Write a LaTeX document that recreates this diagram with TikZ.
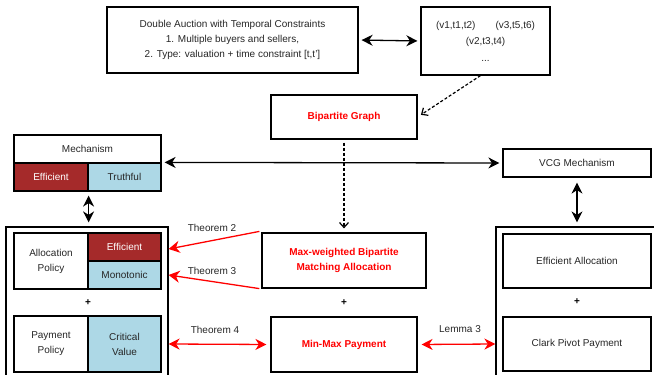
\documentclass[tikz,border=0pt]{standalone}
\usepackage{fontspec}
\setmainfont{Liberation Sans}
\usetikzlibrary{arrows.meta}
\definecolor{effred}{HTML}{A52A2A}
\definecolor{truthblue}{HTML}{ADD8E6}
\tikzset{
  box/.style={draw, line width=1.2pt, inner sep=0pt, align=center, text=black!85,
    font=\fontsize{10}{15}\selectfont},
  redbold/.style={text=red, font=\fontsize{10}{15}\selectfont\bfseries},
  lbl/.style={font=\fontsize{10}{12}\selectfont, text=black!85},
  plus/.style={font=\fontsize{10}{12}\selectfont\bfseries},
  link/.style={line width=1.3pt, {Stealth[length=11pt,width=11pt,inset=3.5pt]}-{Stealth[length=11pt,width=11pt,inset=3.5pt]}},
  redlink/.style={line width=1.3pt, red, -{Stealth[length=11pt,width=12pt,inset=3.5pt]}},
  reddouble/.style={link, red},
  dotlink/.style={line width=1.2pt, dashed, dash pattern=on 3pt off 2pt, -{Straight Barb[length=5pt,width=9pt]}}
}

\begin{document}
\begin{tikzpicture}[x=1pt,y=-1pt]
\useasboundingbox (0,0) rectangle (654,375);

\node[box, minimum width=251pt, minimum height=66pt] (auction) at (232.5,40)
  {Double Auction with Temporal Constraints\\1. Multiple buyers and sellers,\\2. Type: valuation + time constraint [t,t']};
\node[box, minimum width=129pt, minimum height=68pt, font=\fontsize{10}{16.5}\selectfont] (types) at (485.5,41)
  {(v1,t1,t2)\hspace{20pt}(v3,t5,t6)\\(v2,t3,t4)\\...};
\node[box, redbold, minimum width=146pt, minimum height=44pt] (bip) at (344,117) {Bipartite Graph};

\node[box, minimum width=147pt, minimum height=28pt] (mech) at (87.5,149) {Mechanism};
\node[box, fill=effred, text=white, minimum width=74pt, minimum height=28pt] (eff) at (51,177) {Efficient};
\node[box, fill=truthblue, minimum width=73pt, minimum height=28pt] (truth) at (124.5,177) {Truthful};

\node[box, minimum width=162pt, minimum height=153pt] (leftouter) at (87,303.5) {};
\node[box, minimum width=74pt, minimum height=56pt] (policy) at (51,261) {Allocation\\Policy};
\node[box, fill=effred, text=white, minimum width=73pt, minimum height=28pt] (effcell) at (124.5,247) {Efficient};
\node[box, fill=truthblue, minimum width=73pt, minimum height=28pt] (monocell) at (124.5,275) {Monotonic};
\node[plus] (plusa) at (88,303) {+};
\node[box, minimum width=74pt, minimum height=56pt] (paypolicy) at (51,344) {Payment\\Policy};
\node[box, fill=truthblue, minimum width=73pt, minimum height=56pt] (critical) at (124.5,344) {Critical\\Value};

\node[box, redbold, minimum width=164pt, minimum height=55pt] (maxw) at (344,260.5)
  {Max-weighted Bipartite\\Matching Allocation};
\node[plus] (plusb) at (344,303) {+};
\node[box, redbold, minimum width=146pt, minimum height=55pt] (minmax) at (344,344.5) {Min-Max Payment};

\node[box, minimum width=148pt, minimum height=28pt] (vcg) at (577,163) {VCG Mechanism};
\node[box, minimum width=164pt, minimum height=153pt] (rightouter) at (578,303.5) {};
\node[box, minimum width=148pt, minimum height=54pt] (effalloc) at (577,261) {Efficient Allocation};
\node[plus] (plusc) at (577,302) {+};
\node[box, minimum width=148pt, minimum height=54pt] (clark) at (577,344) {Clark Pivot Payment};

\draw[link, shorten <=3pt, shorten >=3pt] (auction.east) -- (types.west);
\draw[dotlink, shorten >=4pt] ([xshift=-5pt]types.south) -- (bip.east);
\draw[dotlink, shorten <=3pt, shorten >=4pt] (bip.south) -- (maxw.north);
\draw[link, shorten <=3pt, shorten >=3pt] (truth.north east) -- (vcg.west);
\draw[link, shorten <=4pt, shorten >=4pt] (eff.south east) -- (eff.south east |- leftouter.north);
\draw[link, shorten <=5pt, shorten >=4pt] (vcg.south) -- (vcg.south |- rightouter.north);

\draw[redlink] ([xshift=-2pt,yshift=1pt]maxw.north west) -- ([yshift=-2pt]leftouter.east |- effcell.east)
  node[lbl] (thma) at (212,228) {Theorem 2};
\draw[redlink] ([xshift=-2pt]maxw.south west) -- (leftouter.east |- monocell.east)
  node[lbl] (thmb) at (212,271) {Theorem 3};
\draw[reddouble, shorten >=4pt] (leftouter.east |- critical.east) -- (minmax.west)
  node[lbl] (thmc) at (215,330) {Theorem 4};
\draw[reddouble, shorten <=4pt] (minmax.east) -- (rightouter.west |- clark.west)
  node[lbl] (lem) at (460,329) {Lemma 3};
\end{tikzpicture}
\end{document}
